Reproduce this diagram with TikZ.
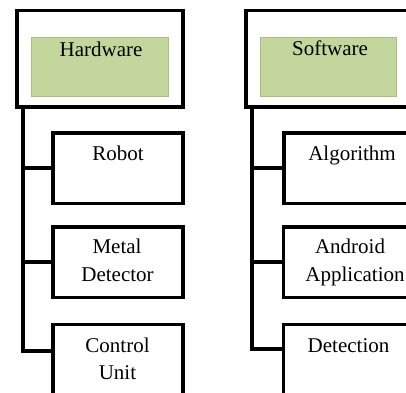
\documentclass[tikz,border=0pt]{standalone}
\usepackage{fontspec}
\setmainfont{Liberation Serif}
\definecolor{hdrgreen}{HTML}{C3D69B}
\definecolor{hdredge}{HTML}{A9BF7E}
\begin{document}
\begin{tikzpicture}[x=1pt,y=-1pt,
  outerbox/.style={draw=black,line width=3.5pt,fill=white,inner sep=0pt,outer sep=0pt,minimum width=166pt,minimum height=96.5pt},
  greenbox/.style={draw=hdredge,line width=0.6pt,fill=hdrgreen,inner sep=0pt,outer sep=0pt,minimum width=137pt,minimum height=59pt},
  itembox/.style={draw=black,line width=3.5pt,fill=white,inner sep=0pt,outer sep=0pt,minimum width=130pt,minimum height=70.5pt},
  conn/.style={draw=black,line width=3.8pt},
  lbl/.style={anchor=base,inner sep=0pt,font=\fontsize{21}{28}\selectfont}]
\useasboundingbox (0,0) rectangle (406,392);
\clip (0,0) rectangle (406,392);
% Hardware column
\node[outerbox] (hw) at (100,58.75) {};
\node[greenbox] (hwg) at (99.5,66.5) {};
\node[lbl] (hwt) at (101,56) {Hardware};
\node[itembox] (robot) at (118,168) {};
\node[lbl] (robott) at (118,160) {Robot};
\node[itembox] (metal) at (118,262) {};
\node[lbl] (metalt1) at (117,253) {Metal};
\node[lbl] (metalt2) at (117.5,281) {Detector};
\node[itembox] (ctrl) at (118,359.5) {};
\node[lbl] (ctrlt1) at (117.5,352.5) {Control};
\node[lbl] (ctrlt2) at (117.5,379) {Unit};
\coordinate (hv) at (23,107);
\draw[conn] (hv) |- (robot.west);
\draw[conn] (hv) |- (metal.west);
\draw[conn] (hv) |- ([yshift=8.5pt]ctrl.west);
% Software column
\node[outerbox] (sw) at (329,58.75) {};
\node[greenbox,minimum width=136pt] (swg) at (328,66.5) {};
\node[lbl] (swt) at (330,55) {Software};
\node[itembox] (algo) at (349,168) {};
\node[lbl] (algot) at (352,160) {Algorithm};
\node[itembox] (andr) at (348.5,262) {};
\node[lbl] (andrt1) at (350,253) {Android};
\node[lbl] (andrt2) at (355,281) {Application};
\node[itembox] (det) at (348.5,359.5) {};
\node[lbl] (dett) at (348.5,352) {Detection};
\coordinate (sv) at (252,107);
\draw[conn] (sv) |- (algo.west);
\draw[conn] (sv) |- (andr.west);
\draw[conn] (sv) |- ([yshift=10.5pt]det.west);
\end{tikzpicture}
\end{document}
